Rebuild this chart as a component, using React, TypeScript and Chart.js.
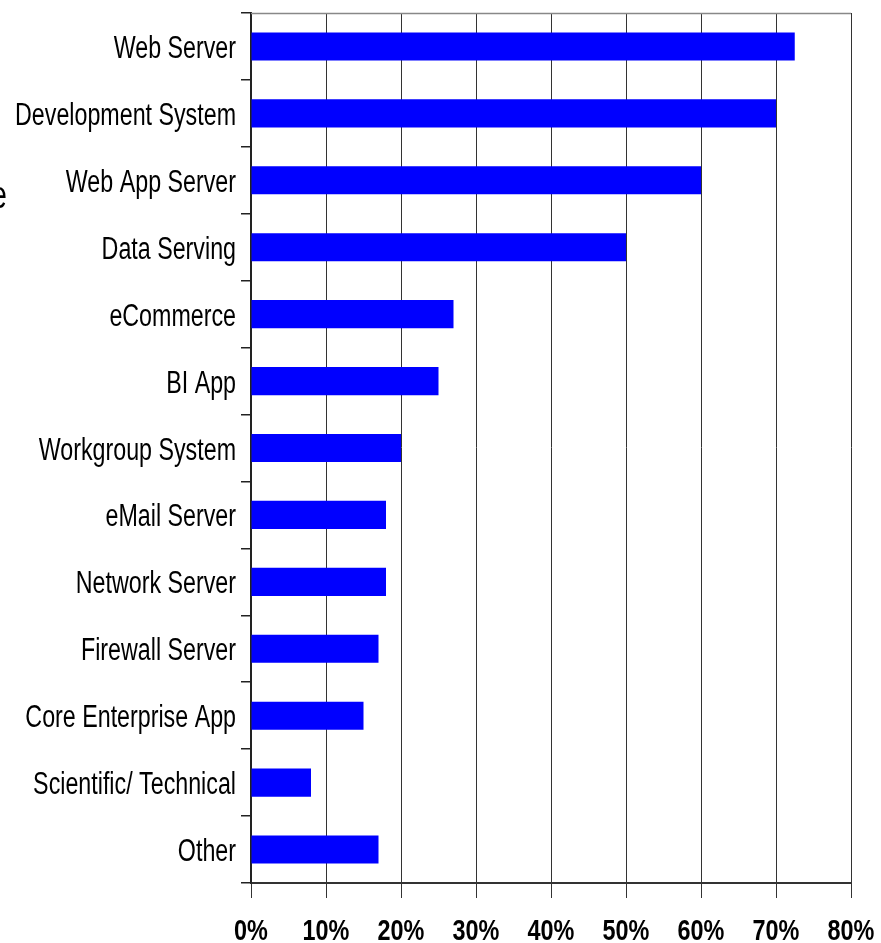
import React, { useEffect, useRef } from "react";
import { Chart, registerables } from "chart.js";

Chart.register(...registerables);

const categories = [
  "Web Server",
  "Development System",
  "Web App Server",
  "Data Serving",
  "eCommerce",
  "BI App",
  "Workgroup System",
  "eMail Server",
  "Network Server",
  "Firewall Server",
  "Core Enterprise App",
  "Scientific/ Technical",
  "Other",
];

const values = [72.5, 70, 60, 50, 27, 25, 20, 18, 18, 17, 15, 8, 17];

const xTickMax = 80;
const xTickStep = 10;

const FONT = "'Liberation Sans', Arial, sans-serif";

// Draws the axis labels through the chart's own scales, with a narrow (condensed) look.
const narrowLabels = {
  id: "narrowLabels",
  afterDraw(chart: any) {
    const { ctx, scales } = chart;
    const ys = scales.y;
    const xs = scales.x;
    ctx.save();
    ctx.fillStyle = "#000";
    // y labels
    ctx.font = `31px ${FONT}`;
    ctx.textAlign = "right";
    ctx.textBaseline = "alphabetic";
    const labels: string[] = chart.data.labels;
    labels.forEach((lab, i) => {
      const y = ys.getPixelForValue(i);
      ctx.save();
      ctx.translate(ys.right - 15, y + 11.5);
      ctx.scale(0.75, 1);
      ctx.fillText(lab, 0, 0);
      ctx.restore();
    });
    // x labels
    ctx.font = `bold 30px ${FONT}`;
    ctx.textAlign = "center";
    xs.ticks.forEach((t: any) => {
      const x = xs.getPixelForValue(t.value);
      ctx.save();
      ctx.translate(x, 940);
      ctx.scale(0.78, 1);
      ctx.fillText(t.value + "%", 0, 0);
      ctx.restore();
    });
    ctx.restore();
  },
};

const topBorder = {
  id: "topBorder",
  afterDraw(chart: any) {
    const { ctx, chartArea } = chart;
    ctx.save();
    ctx.strokeStyle = "#888888";
    ctx.lineWidth = 1.5;
    ctx.beginPath();
    ctx.moveTo(chartArea.left, chartArea.top + 0.5);
    ctx.lineTo(chartArea.right, chartArea.top + 0.5);
    ctx.stroke();
    ctx.restore();
  },
};

export default function App() {
  const ref = useRef<HTMLCanvasElement>(null);

  useEffect(() => {
    if (!ref.current) return;
    const chart = new Chart(ref.current, {
      type: "bar",
      data: {
        labels: categories,
        datasets: [
          {
            data: values,
            backgroundColor: "#0000FF",
            borderWidth: 0,
            barPercentage: 0.42,
            categoryPercentage: 1,
          },
        ],
      },
      plugins: [topBorder, narrowLabels],
      options: {
        indexAxis: "y",
        responsive: false,
        animation: false,
        devicePixelRatio: 1,
        layout: { padding: { top: 13, right: 30, bottom: 0, left: 0 } },
        plugins: {
          legend: { display: false },
          tooltip: { enabled: false },
          title: { display: false },
        },
        scales: {
          x: {
            type: "linear",
            min: 0,
            max: xTickMax,
            ticks: {
              stepSize: xTickStep,
              display: false,
            },
            grid: {
              color: "#333333",
              lineWidth: 1,
              tickLength: 15,
              drawOnChartArea: true,
            },
            border: { display: true, color: "#333333", width: 2 },
            afterFit: (scale: any) => {
              scale.height = 60;
            },
          },
          y: {
            type: "category",
            ticks: { display: false },
            grid: {
              offset: true,
              drawOnChartArea: false,
              drawTicks: true,
              tickLength: 10,
              color: "#222222",
              lineWidth: 1.5,
            },
            border: { display: true, color: "#222222", width: 2 },
            afterFit: (scale: any) => {
              scale.width = 251;
            },
          },
        },
      },
    });
    return () => chart.destroy();
  }, []);

  return (
    <div
      style={{
        position: "fixed",
        left: 0,
        top: 0,
        width: 881,
        height: 943,
        background: "#fff",
        overflow: "hidden",
      }}
    >
      <span
        style={{
          position: "absolute",
          left: -9,
          top: 176,
          fontFamily: FONT,
          fontSize: 38,
          lineHeight: 1,
          color: "#000",
          transform: "scaleX(0.75)",
          transformOrigin: "left top",
        }}
      >
        e
      </span>
      <canvas ref={ref} width={881} height={943} style={{ display: "block" }} />
    </div>
  );
}
